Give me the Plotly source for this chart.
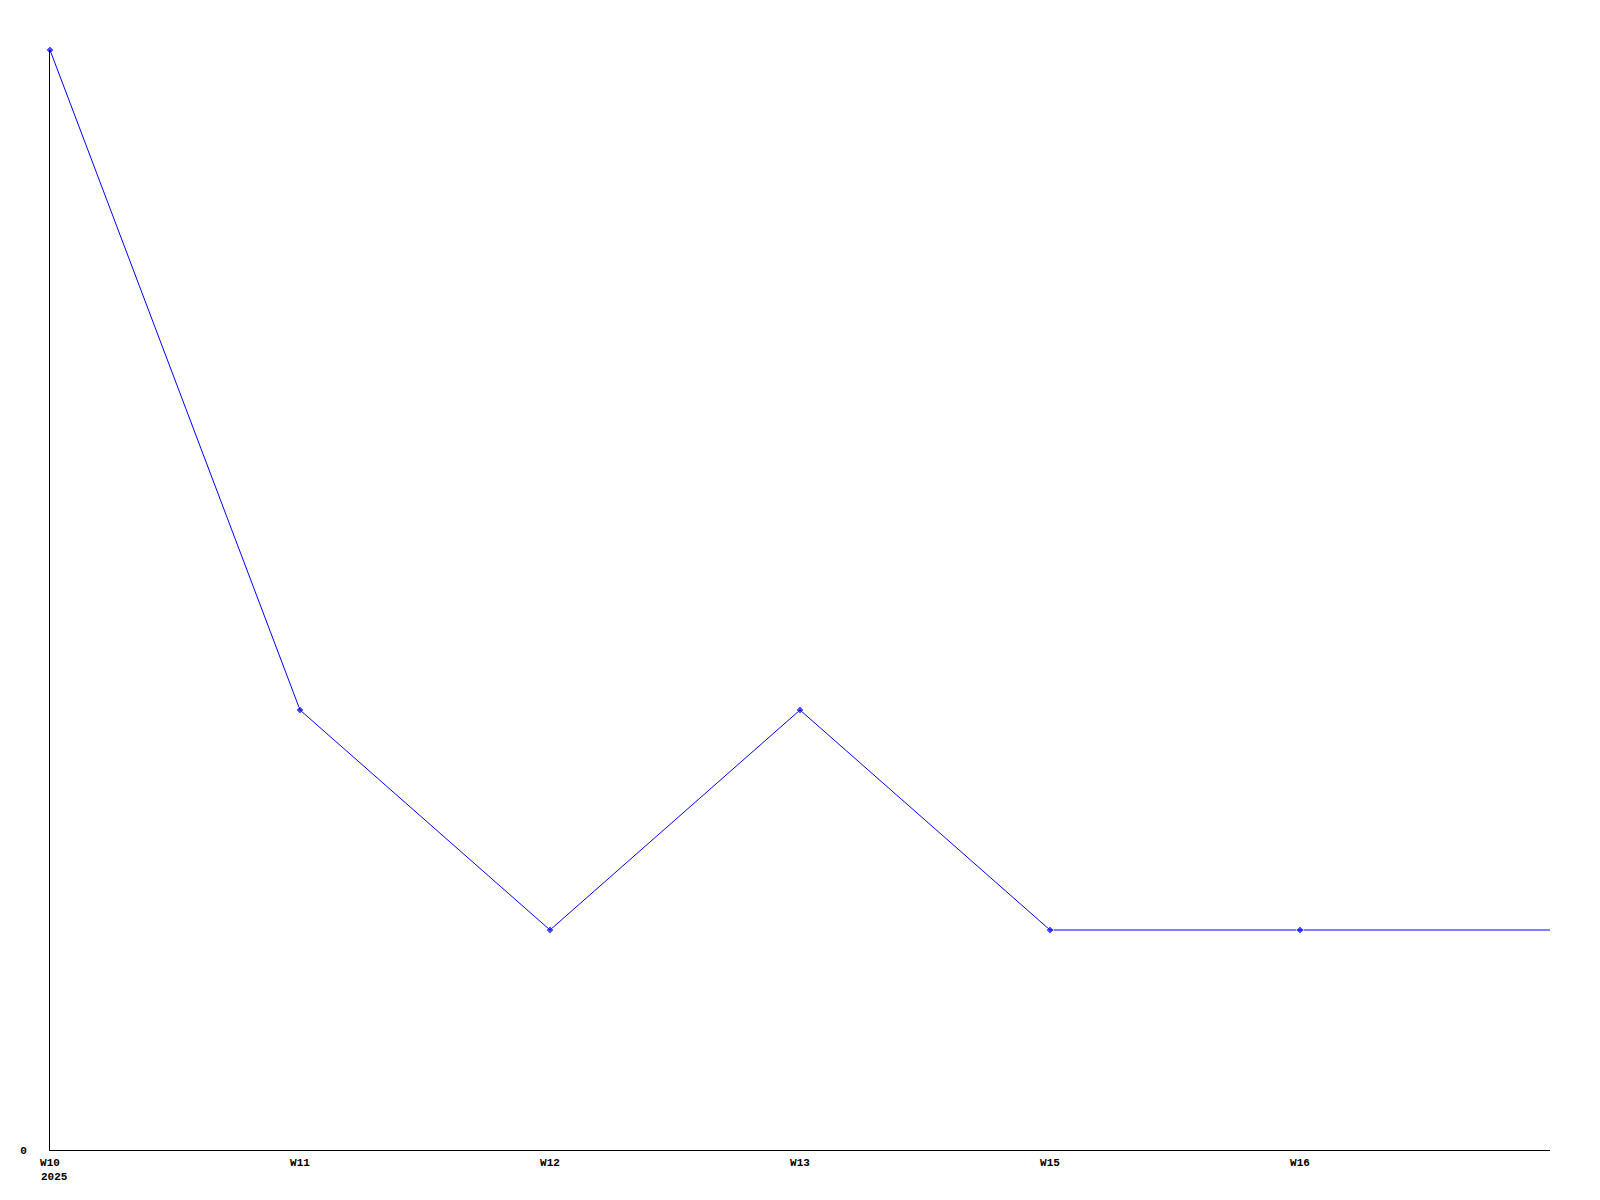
import plotly.graph_objects as go

weeks = ["W10", "W11", "W12", "W13", "W15", "W16", "W17"]
values = [5, 2, 1, 2, 1, 1, 1]
tick_weeks = ["W10", "W11", "W12", "W13", "W15", "W16"]
year_label = "2025"

font_family = "Liberation Mono, DejaVu Sans Mono, monospace"

marker_sizes = [6] * (len(weeks) - 1) + [0]

fig = go.Figure()
fig.add_trace(go.Scatter(
    x=weeks, y=values, mode="lines+markers", cliponaxis=False,
    line=dict(color="#0000ff", width=1),
    marker=dict(symbol="diamond", size=marker_sizes, color="#0000ff"),
    showlegend=False,
))

# page body has an 8px margin; compensate so the plot area sits at 50..1550 x 50..1150
fig.update_layout(
    width=1592, height=1192,
    margin=dict(l=42, r=50, t=42, b=50),
    paper_bgcolor="white", plot_bgcolor="white",
    font=dict(family=font_family, size=11, color="black"),
    xaxis=dict(
        type="category", range=[0, len(weeks) - 1], automargin=False,
        tickmode="array", tickvals=tick_weeks, ticktext=tick_weeks,
        showgrid=False, zeroline=False, showline=True, linecolor="black", linewidth=1,
        ticks="", ticklabelstandoff=2,
        tickfont=dict(family=font_family, size=11, color="black", weight="bold"),
    ),
    yaxis=dict(
        range=[0, 5], tickmode="array", tickvals=[0], ticktext=["0"], automargin=False,
        showgrid=False, zeroline=False, showline=True, linecolor="black", linewidth=1,
        ticks="", ticklabelstandoff=20,
        tickfont=dict(family=font_family, size=11, color="black", weight="bold"),
    ),
)

fig.add_annotation(
    x=tick_weeks[0], y=0, xref="x", yref="y", text=year_label,
    showarrow=False, xanchor="left", yanchor="middle",
    xshift=-11, yshift=-27,
    font=dict(family=font_family, size=11, color="black", weight="bold"),
)

fig.write_html("out.html")
